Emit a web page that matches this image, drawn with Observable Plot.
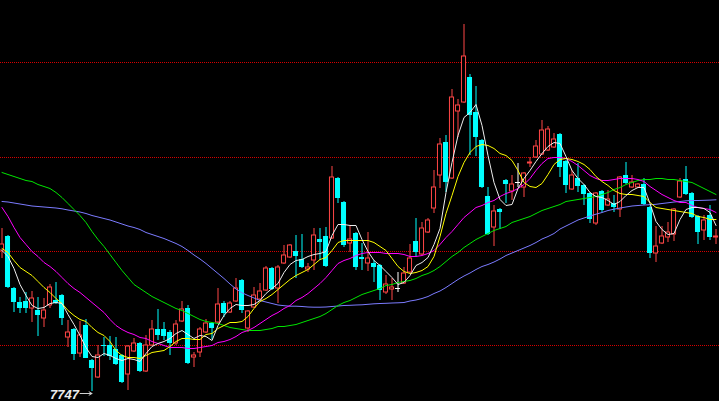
<!DOCTYPE html>
<html><head><meta charset="utf-8">
<script src="https://cdn.jsdelivr.net/npm/d3@7"></script>
<script src="https://cdn.jsdelivr.net/npm/@observablehq/plot@0.6"></script>
<style>html,body{margin:0;padding:0;background:#000;overflow:hidden}#chart svg{display:block}</style>
</head><body><div id="chart"></div>
<script>
const open = [7888,7902,7850,7836,7837,7830,7828,7820,7833,7838,
7843,7801,7809,7785,7813,7778,7761,7793,7793,7789,
7783,7764,7787,7795,7767,7793,7809,7809,7806,7795,
7817,7830,7781,7786,7806,7815,7816,7835,7826,7837,
7858,7810,7831,7839,7848,7870,7850,7875,7881,7887,
7879,7869,7878,7899,7902,7900,7960,7936,7895,7905,
7881,7875,7875,7873,7846,7849,7850,7855,7866,7897,
7884,7906,7930,7963,7996,7960,8027,8036,8061,8026,
7998,7942,7911,7929,7958,7947,7956,7951,7975,7981,
7984,7988,7991,8004,7977,7949,7960,7953,7945,7915,
7947,7933,7935,7929,7963,7951,7951,7954,7931,7885,
7895,7901,7904,7941,7959,7945,7922,7908,7923,7901];
const close = [7894,7851,7836,7830,7830,7840,7823,7828,7851,7835,
7820,7806,7784,7803,7780,7770,7783,7792,7782,7774,
7756,7792,7795,7767,7793,7809,7803,7802,7795,7814,
7829,7775,7783,7809,7815,7810,7834,7825,7835,7850,
7828,7827,7843,7847,7870,7849,7871,7883,7893,7882,
7871,7871,7903,7896,7872,7961,7940,7893,7899,7871,
7879,7880,7871,7848,7854,7851,7850,7865,7880,7886,
7910,7918,7951,7994,7956,8041,8033,8082,8023,8001,
7951,7904,7927,7926,7954,7954,7956,7965,7976,7992,
8008,8009,7999,7971,7953,7963,7952,7944,7919,7945,
7928,7939,7931,7961,7955,7956,7954,7934,7885,7892,
7902,7906,7929,7957,7944,7921,7906,7918,7901,7902];
const high = [7910,7903,7851,7841,7846,7847,7841,7840,7854,7856,
7844,7818,7810,7817,7819,7779,7793,7801,7802,7801,
7784,7793,7800,7796,7803,7818,7829,7816,7808,7818,
7837,7833,7786,7811,7819,7816,7850,7837,7837,7860,
7859,7828,7851,7855,7872,7871,7873,7893,7894,7903,
7904,7875,7910,7910,7911,7972,7961,7937,7912,7906,
7895,7906,7878,7874,7863,7860,7866,7871,7894,7920,
7916,7920,7968,8000,8003,8049,8039,8114,8064,8052,
7999,7951,7933,7930,7959,7963,7975,7966,7981,7998,
8018,8012,8005,8005,7978,7968,7975,7954,7946,7946,
7948,7948,7943,7962,7976,7963,7955,7960,7932,7912,
7912,7916,7930,7960,7972,7946,7923,7923,7933,7909];
const low = [7880,7850,7826,7825,7825,7816,7802,7811,7830,7834,
7813,7791,7778,7781,7780,7747,7760,7782,7778,7773,
7755,7748,7786,7766,7766,7792,7798,7798,7783,7793,
7816,7774,7771,7781,7805,7799,7815,7821,7825,7836,
7825,7806,7830,7838,7847,7848,7835,7874,7880,7860,
7870,7866,7868,7878,7871,7899,7935,7891,7886,7868,
7868,7867,7856,7838,7844,7838,7846,7854,7865,7881,
7883,7905,7925,7950,7946,7959,8001,8035,7983,7982,
7950,7903,7892,7909,7935,7938,7951,7941,7971,7980,
7983,7987,7990,7961,7945,7948,7946,7933,7915,7913,
7926,7932,7926,7921,7954,7950,7950,7933,7880,7876,
7894,7896,7897,7940,7943,7920,7894,7898,7898,7894];

const ma5 = [7888,7882,7870,7854,7843,7833,7830,7831,7835,7836,
7835,7824,7814,7803,7791,7782,7781,7785,7783,7780,
7778,7780,7779,7777,7785,7792,7795,7797,7800,7805,
7808,7804,7800,7803,7802,7798,7813,7823,7830,7834,
7833,7833,7834,7838,7845,7850,7855,7866,7874,7878,
7879,7882,7884,7885,7887,7903,7914,7914,7913,7913,
7899,7887,7878,7873,7867,7861,7854,7856,7863,7873,
7876,7881,7894,7910,7946,7976,8003,8021,8026,8034,
8013,7983,7956,7939,7933,7934,7950,7960,7968,7977,
7985,7992,7996,7995,7982,7968,7960,7954,7946,7942,
7941,7938,7934,7937,7943,7948,7951,7951,7935,7917,
7909,7904,7905,7919,7929,7931,7931,7930,7926,7913];
const ma10 = [7890,7886,7878,7871,7867,7863,7857,7851,7846,7840,
7835,7828,7823,7819,7817,7811,7806,7803,7797,7788,
7783,7781,7781,7780,7783,7786,7787,7788,7792,7797,
7800,7800,7799,7799,7804,7805,7810,7813,7816,7816,
7817,7822,7830,7837,7840,7844,7849,7854,7859,7863,
7866,7869,7874,7879,7881,7888,7896,7898,7898,7898,
7898,7898,7896,7892,7888,7880,7872,7867,7865,7866,
7868,7872,7882,7902,7925,7943,7962,7976,7986,7992,
7994,7993,7990,7985,7983,7978,7968,7956,7952,7951,
7955,7964,7974,7979,7980,7979,7977,7974,7969,7962,
7957,7953,7948,7945,7944,7944,7943,7942,7936,7931,
7930,7929,7928,7927,7926,7925,7922,7921,7919,7919];
const ma20 = [7931,7922,7911,7901,7894,7887,7882,7876,7872,7867,
7861,7855,7850,7846,7841,7836,7831,7826,7819,7813,
7809,7806,7804,7801,7800,7797,7795,7793,7791,7791,
7791,7790,7790,7791,7792,7793,7796,7797,7799,7802,
7806,7808,7811,7815,7819,7823,7826,7830,7833,7838,
7841,7845,7850,7855,7861,7868,7875,7878,7880,7883,
7885,7886,7886,7886,7885,7885,7885,7884,7882,7882,
7883,7885,7888,7894,7901,7907,7914,7921,7926,7931,
7933,7936,7938,7942,7945,7947,7950,7954,7960,7968,
7975,7980,7981,7981,7980,7977,7973,7968,7963,7960,
7958,7958,7959,7960,7960,7960,7959,7957,7952,7948,
7944,7941,7938,7936,7936,7933,7931,7930,7929,7926];
const ma60 = [7966,7964,7962,7960,7958,7957,7954,7952,7950,7946,
7941,7935,7929,7923,7916,7907,7899,7892,7884,7876,
7868,7861,7854,7850,7846,7842,7839,7836,7833,7830,
7828,7825,7822,7819,7817,7816,7815,7813,7811,7810,
7809,7808,7808,7808,7809,7810,7812,7812,7813,7814,
7816,7818,7820,7822,7825,7829,7833,7836,7838,7841,
7844,7846,7848,7850,7853,7854,7856,7857,7858,7860,
7863,7865,7868,7872,7877,7882,7886,7891,7895,7899,
7902,7905,7908,7910,7912,7916,7918,7920,7922,7925,
7928,7930,7932,7934,7937,7938,7939,7940,7941,7942,
7944,7946,7949,7951,7954,7956,7958,7959,7959,7960,
7960,7959,7959,7958,7957,7956,7953,7950,7947,7944];
const ma120 = [7937,7936.5,7935.5,7934.5,7933.5,7932.5,7932,7931.5,7931,7930.5,
7929.7,7928.5,7927.5,7926.5,7925,7923,7921.5,7920,7918.5,7916.5,
7914.5,7912.5,7911,7909,7906,7904,7902,7900,7897.5,7895,
7892,7888,7883.5,7879.5,7875,7870,7865,7860,7854.5,7849.5,
7845.7,7843,7840.5,7838,7836.5,7835,7833.5,7832.8,7832.3,7832.3,
7832,7831.5,7831.3,7831.3,7831.5,7832,7832.5,7833,7833.2,7833.5,
7833.7,7834.2,7834.7,7835,7835.2,7835.5,7835.7,7836,7837.5,7838.5,
7840,7842,7845,7847.5,7851,7855,7859,7862.5,7865.5,7869,
7872,7874,7876.5,7879.5,7883,7885.5,7888,7890.5,7893,7896,
7899.5,7902,7905,7909.5,7912.5,7915.5,7918.5,7920.5,7922.5,7924.3,
7926,7928,7929.3,7930.5,7931.5,7932.5,7933,7933.5,7933.8,7934.2,
7935,7935.7,7936.5,7937,7937.7,7938,7938,7938.2,7938.4,7938.7];

const gridLevels = [8076, 7981, 7887, 7793];

const days = d3.range(open.length);
const candles = days.map(i => ({i, o: open[i], h: high[i], l: low[i], c: close[i]}));
const up = candles.filter(d => d.c > d.o);
const down = candles.filter(d => d.c < d.o);
const flat = candles.filter(d => d.c === d.o);
const UP = "#ff4646", DOWN = "#00ffff", FLAT = "#ffffff";

const maSeries = [
  {values: ma120, color: "#7b7bff"},
  {values: ma60, color: "#00e600"},
  {values: ma20, color: "#ff00ff"},
  {values: ma10, color: "#ffff00"},
  {values: ma5, color: "#eeeeee"}
];

const lowIdx = d3.minIndex(low);
const lowMark = [{i: lowIdx, v: low[lowIdx]}];

const chart = Plot.plot({
  width: 719, height: 401, margin: 0,
  style: {background: "#000", overflow: "hidden"},
  x: {domain: [-0.25, 119.5833], axis: null},
  y: {domain: [7737, 8138], axis: null},
  marks: [
    Plot.ruleY(gridLevels, {stroke: "#d40000", strokeDasharray: "1,1", shapeRendering: "crispEdges"}),
    Plot.ruleX(down, {x: "i", y1: "l", y2: "h", stroke: DOWN}),
    Plot.ruleX(up, {x: "i", y1: "l", y2: "h", stroke: UP}),
    Plot.ruleX(flat, {x: "i", y1: "l", y2: "h", stroke: FLAT}),
    Plot.rect(down, {x1: d => d.i - 0.42, x2: d => d.i + 0.42, y1: "o", y2: "c", fill: DOWN}),
    Plot.rect(up, {x1: d => d.i - 0.34, x2: d => d.i + 0.34, y1: "o", y2: "c", fill: "#000", stroke: UP, strokeWidth: 1}),
    Plot.ruleY(flat, {x1: d => d.i - 0.42, x2: d => d.i + 0.42, y: "c", stroke: FLAT}),
    ...maSeries.map(s => Plot.line(days, {x: d => d, y: d => s.values[d], stroke: s.color, strokeWidth: 1})),
    Plot.arrow(lowMark, {x1: d => d.i - 2, x2: "i", y1: "v", y2: "v", dy: 2, stroke: "#d0d0d0", strokeWidth: 1, headLength: 5, bend: 0}),
    Plot.text(lowMark, {x: "i", y: "v", text: d => `${d.v}`, textAnchor: "end", dx: -13, dy: 3,
      fill: "#ececec", fontSize: 13, fontWeight: "bold", fontStyle: "italic", fontFamily: "Liberation Sans, Arial, sans-serif"})
  ]
});
document.getElementById("chart").append(chart);
</script>
</body></html>
